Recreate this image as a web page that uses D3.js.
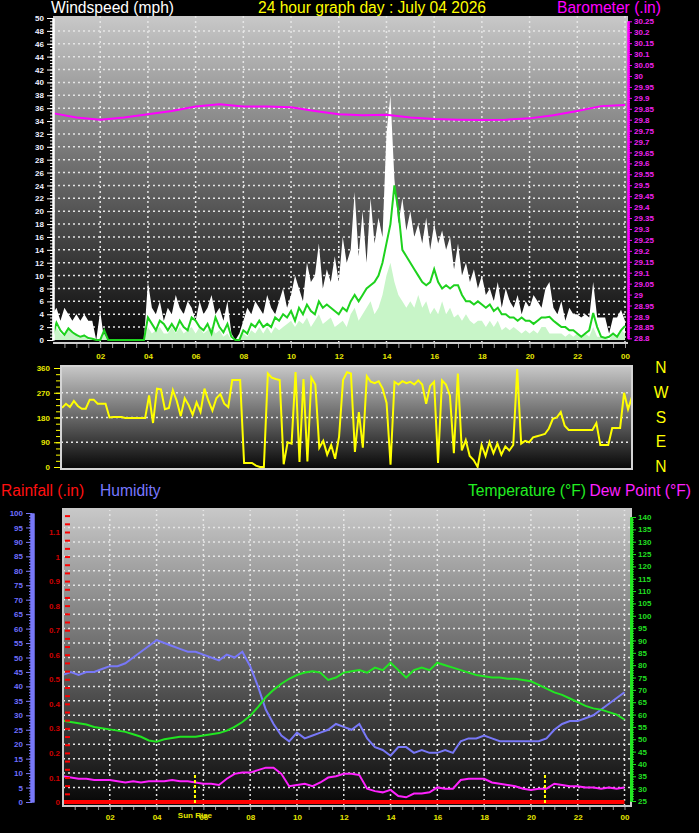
<!DOCTYPE html>
<html lang="en">

<head>
    <meta charset="UTF-8">
    <title>24 hour graph day : July 04 2026</title>
    <style>
        body {
            margin: 0;
            background: #000;
        }

        svg {
            display: block;
        }

        .title {
            font-family: "Liberation Sans", Arial, sans-serif;
            font-size: 15.6px;
        }
    </style>
</head>

<body>
    <script src="https://d3js.org/d3.v7.min.js"></script>
    <script>
        var width = 699;
        var height = 833;

        // hour labels under the time axes (every 2 hours)
        var hourLabels = ['02', '04', '06', '08', '10', '12', '14', '16', '18', '20', '22', '00'];
        var dirLetters = ['N', 'W', 'S', 'E', 'N'];
        var dirLetterValues = [360, 270, 180, 90, 0];

        // windspeed, 10 minute samples from 00:00 to 24:00 (mph)
        var windGust = [
            4, 5, 3, 5, 4, 3,
            4, 3, 4, 3, 3, 0,
            4.5, 0, 0, 0, 0, 0,
            0, 0, 0, 0, 0, 0,
            9, 5, 4, 6, 3, 5,
            4, 7, 5, 4, 6, 5,
            3, 6, 4, 5, 7, 4,
            5, 3, 6, 1, 0, 1,
            3, 5, 4, 6, 5, 4,
            7, 5, 4, 6, 8, 5,
            7, 10, 8, 6, 12, 9,
            10, 15, 8, 11, 9, 13,
            9, 16, 12, 14, 23, 13,
            20, 12, 22, 15, 19, 16,
            32, 38, 25, 18, 22, 17,
            20, 16, 18, 15, 19, 14,
            18, 15, 17, 14, 16, 11,
            15, 10, 12, 9, 11, 8,
            10, 7, 8, 6, 9, 5,
            8, 6, 5, 7, 4, 6,
            5, 7, 6, 5, 8, 9,
            5, 4, 6, 3, 5, 4,
            4, 3.5, 4, 3.5, 9, 3.5,
            3.5, 3.5, 1, 3.5, 3.5, 4.7,
            3
        ];
        var windAvg = [
            0.5, 2.7, 1.5, 0.8, 1.8, 1.2,
            0.8, 0.5, 0.7, 0.3, 0.2, 0,
            0, 1.5, 0, 0, 0, 0,
            0, 0, 0, 0, 0, 0,
            3.5, 2.5, 1.5, 3, 2.5, 1.5,
            2.5, 1.5, 3, 2, 1.5, 3.5,
            3, 2, 1.5, 2.5, 1, 3.5,
            2, 1.2, 2.5, 0.5, 0, 0,
            1.5, 1, 2.5, 2, 3, 2,
            2.5, 2, 3.5, 3, 4, 3.5,
            4.5, 3, 5, 4, 5.5, 4.5,
            4, 6, 5, 5.5, 5, 4.5,
            4, 5, 4.5, 6, 7, 6,
            7, 8, 8.5, 9, 10, 12,
            15, 18, 24, 20, 14, 13,
            12, 11, 10, 9, 8.5, 9,
            11, 9, 8, 8.5, 8, 8.5,
            8.5, 7, 6, 6, 5.5, 6,
            5.5, 5, 5.5, 4.5, 5, 4,
            4, 3.5, 3.5, 3, 3.5, 3,
            3, 2.5, 3, 3.5, 3.5, 3.6,
            3, 2.5, 2, 2, 1.5, 1.5,
            1, 0.5, 1, 1.5, 4.2, 2,
            0.5, 0.3, 0.5, 1, 0.5, 1.5,
            2.2
        ];
        var windSpeed = [
            1, 2, 1, 0.5, 1.5, 1,
            1, 0.5, 1, 0, 0, 0,
            0, 1, 0, 0, 0, 0,
            0, 0, 0, 0, 0, 0,
            2, 1, 1.5, 2, 1, 1,
            2, 1, 2, 1, 1.5, 2,
            1, 2, 1, 1.5, 2, 1,
            1.5, 0.5, 1, 0, 0, 0,
            1, 0.5, 1.5, 1, 2, 1,
            2, 1, 2, 1.5, 2, 2.5,
            3, 2, 3, 2.5, 3.5, 2,
            3, 4, 2.5, 3, 3.5, 2,
            2.5, 3, 2, 4, 5, 3,
            4, 5, 6, 4, 5, 7,
            10, 12, 9, 7, 6, 5,
            6, 5, 7, 5, 6, 4,
            5, 4, 6, 4, 5, 3.5,
            4, 3, 4, 3, 2.5, 3,
            3, 2, 3, 2, 3, 1.5,
            2, 1.5, 2, 1.5, 1, 1.5,
            1, 1.5, 1, 2, 2, 1,
            1, 1, 1, 0.5, 1, 0.5,
            1, 0.5, 1, 0.5, 2, 0.5,
            0.5, 0.5, 0, 1, 0.5, 1.5,
            1
        ];

        // barometer, hourly (in)
        var barometer = [29.83, 29.81, 29.80, 29.81, 29.825, 29.84, 29.86, 29.87, 29.86, 29.86,
            29.857, 29.84, 29.825, 29.82, 29.823, 29.81, 29.803, 29.80, 29.799, 29.80,
            29.806, 29.82, 29.84, 29.862, 29.867];

        // wind direction, 10 minute samples (degrees)
        var windDir = [
            215, 230, 218, 240, 222, 212, 212, 245, 245, 230, 230, 230,
            180, 182, 182, 182, 178, 178, 178, 178, 178, 178, 260, 160,
            285, 282, 210, 215, 280, 240, 185, 250, 225, 190, 235, 200,
            285, 240, 205, 250, 265, 230, 218, 316, 316, 316, 15, 15,
            15, 5, 0, 0, 340, 325, 320, 316, 10, 90, 85, 345,
            18, 320, 20, 325, 300, 70, 95, 45, 80, 30, 110, 316,
            345, 340, 55, 200, 70, 330, 310, 305, 312, 285, 233, 8,
            310, 300, 312, 305, 310, 300, 315, 300, 230, 295, 310, 15,
            315, 300, 260, 50, 340, 60, 98, 40, 25, 0, 80, 40,
            90, 50, 85, 45, 75, 60, 80, 356, 85, 95, 90, 108,
            112, 116, 120, 140, 175, 180, 200, 150, 135, 135, 135, 135,
            135, 135, 135, 160, 80, 80, 80, 142, 142, 142, 270, 210,
            255
        ];

        // humidity (%), temperature and dew point (F), 20 minute samples
        var humidity = [
            44, 45, 44, 45, 45, 46, 47, 47, 48, 50, 52, 54,
            56, 55, 54, 53, 52, 52, 51, 50, 49, 51, 50, 52,
            47, 40, 32, 27, 23, 21, 24, 22, 23, 24, 25, 27,
            26, 25, 27, 22, 19, 18, 16, 19, 19, 17, 18, 17,
            17, 18, 17, 21, 22, 22, 23, 22, 21, 21, 21, 21,
            21, 21, 22, 25, 27, 28, 28, 29, 30, 32, 34, 36,
            38
        ];
        var temperature = [
            57.5, 57, 56.5, 56, 55, 54.5, 54, 53.5, 53, 52, 51, 49.5,
            49, 50, 50.5, 51, 51, 51, 51.5, 52, 52.5, 53.5, 55, 57,
            59.5, 63, 67, 70, 72.5, 74.5, 76, 77, 77.5, 77, 74, 75,
            77, 77.5, 78, 77, 79, 78, 81, 78, 75, 78, 79, 78,
            81, 80, 79, 78, 77, 76, 75.5, 75, 75, 74.5, 74.5, 74,
            73.5, 72, 70.5, 69, 68, 66.5, 65, 63.5, 62.5, 62, 61, 60,
            58
        ];
        var dewPoint = [
            35, 34.5, 34, 34, 33.5, 33.5, 33.5, 33, 32.5, 33, 32.5, 33,
            33, 33, 33.5, 33, 33, 32.5, 32, 32, 31.5, 34, 36, 36.5,
            36.5, 37.5, 38.5, 38.5, 36, 31, 31.5, 32, 31, 32.5, 34.5, 35,
            36, 36, 35.5, 30, 29, 28.5, 29.5, 27, 26.5, 28, 28, 28.5,
            30.5, 30, 30, 33.5, 34, 34, 34, 32.5, 32, 31.5, 31, 30,
            29.5, 30, 30, 32, 31.5, 31, 31, 30.5, 30.5, 30, 30.5, 30,
            30.5
        ];
        // rainfall total, hourly (in)
        var rainfall = [0, 0, 0, 0, 0, 0, 0, 0, 0, 0, 0, 0, 0, 0, 0, 0, 0, 0, 0, 0, 0, 0, 0, 0, 0];
        var sunRise = 5.64;
        var sunSet = 20.6;

        var font = '"Liberation Sans", Arial, sans-serif';

        var svg = d3.select('body').append('svg').attr('width', width).attr('height', height)
            .style('background', '#000');

        // panel background gradient
        var grad = svg.append('defs').append('linearGradient').attr('id', 'panelGrad')
            .attr('x1', 0).attr('y1', 0).attr('x2', 0).attr('y2', 1);
        grad.append('stop').attr('offset', '0%').attr('stop-color', '#c8c8c8');
        grad.append('stop').attr('offset', '100%').attr('stop-color', '#060606');

        function panel(box) {
            svg.append('rect').attr('x', box.left).attr('y', box.top)
                .attr('width', box.right - box.left).attr('height', box.bottom - box.top)
                .attr('fill', 'url(#panelGrad)');
        }

        function hGrid(vals, y, x0, x1) {
            svg.append('g').selectAll('line').data(vals).enter().append('line')
                .attr('x1', x0).attr('x2', x1)
                .attr('y1', function (d) { return y(d); }).attr('y2', function (d) { return y(d); })
                .attr('stroke', '#e6e6e6').attr('stroke-width', 1.5).attr('stroke-dasharray', '2,3');
        }

        function vGrid(vals, x, y0, y1) {
            svg.append('g').selectAll('line').data(vals).enter().append('line')
                .attr('y1', y0).attr('y2', y1)
                .attr('x1', function (d) { return x(d); }).attr('x2', function (d) { return x(d); })
                .attr('stroke', '#e6e6e6').attr('stroke-width', 1.5).attr('stroke-dasharray', '2,3');
        }

        function styleAxis(g, color, lineWidth, textColor) {
            g.attr('font-family', font).attr('font-size', 8).attr('font-weight', 'bold');
            g.select('.domain').attr('stroke', color).attr('stroke-width', lineWidth);
            g.selectAll('.tick line').attr('stroke', color);
            g.selectAll('.tick text').attr('fill', textColor || color);
        }

        function hourFormat(d) {
            return (d % 2 === 0 && d > 0) ? hourLabels[d / 2 - 1] : '';
        }

        // ---------------- windspeed / barometer ----------------
        var windBox = { left: 53, right: 628, top: 16, bottom: 343 };
        var xW = d3.scaleLinear().domain([0, 24]).range([52.5, 625]);
        var yW = d3.scaleLinear().domain([0, 50]).range([340, 18]);
        var yB = d3.scaleLinear().domain([28.8, 30.25]).range([338.3, 21.3]);

        panel(windBox);
        hGrid(d3.range(2, 50, 2), yW, windBox.left, windBox.right);
        vGrid(d3.range(2, 25, 2), xW, windBox.top, windBox.bottom);

        svg.append('path').datum(windGust)
            .attr('d', d3.area().x(function (d, i) { return xW(i / 6); }).y0(yW(0)).y1(function (d) { return yW(d); }))
            .attr('fill', '#ffffff');
        svg.append('path').datum(windSpeed)
            .attr('d', d3.area().x(function (d, i) { return xW(i / 6); }).y0(yW(0)).y1(function (d) { return yW(d); }))
            .attr('fill', '#c8f5c8');
        svg.append('path').datum(windAvg)
            .attr('d', d3.line().x(function (d, i) { return xW(i / 6); }).y(function (d) { return yW(d); }))
            .attr('fill', 'none').attr('stroke', '#1ed21e').attr('stroke-width', 2);
        svg.append('path').datum(barometer)
            .attr('d', d3.line().x(function (d, i) { return xW(i); }).y(function (d) { return yB(d); }))
            .attr('fill', 'none').attr('stroke', '#ff00ff').attr('stroke-width', 2);

        svg.append('line').attr('x1', windBox.left).attr('x2', windBox.right)
            .attr('y1', windBox.bottom).attr('y2', windBox.bottom)
            .attr('stroke', '#d0d0d0').attr('stroke-width', 2);

        var g = svg.append('g').attr('transform', 'translate(' + windBox.left + ',0)')
            .call(d3.axisLeft(yW).tickValues(d3.range(0, 50.1, 0.5)).tickSize(3).tickSizeOuter(0).tickFormat(''));
        styleAxis(g, '#ffffff', 2);
        g = svg.append('g').attr('transform', 'translate(' + windBox.left + ',0)')
            .call(d3.axisLeft(yW).tickValues(d3.range(0, 51, 2)).tickSize(6).tickSizeOuter(0).tickPadding(3));
        styleAxis(g, '#ffffff', 2, '#f0f0ff');

        g = svg.append('g').attr('transform', 'translate(' + windBox.right + ',0)')
            .call(d3.axisRight(yB).tickValues(d3.range(28.8, 30.2501, 0.01)).tickSize(2).tickSizeOuter(0).tickFormat(''));
        styleAxis(g, '#ff00ff', 2);
        g = svg.append('g').attr('transform', 'translate(' + windBox.right + ',0)')
            .call(d3.axisRight(yB).tickValues(d3.range(0, 30).map(function (i) { return 28.8 + i * 0.05; }))
                .tickSize(4).tickSizeOuter(0).tickPadding(2)
                .tickFormat(function (d) { return String(+d.toFixed(2)); }));
        styleAxis(g, '#ff00ff', 2, '#ee22ee');

        g = svg.append('g').attr('transform', 'translate(0,' + (windBox.bottom + 1) + ')')
            .call(d3.axisBottom(xW).tickValues(d3.range(0.5, 24.01, 0.5)).tickSize(4).tickSizeOuter(0).tickPadding(5)
                .tickFormat(hourFormat));
        styleAxis(g, '#9a9a9a', 0, '#e6e600');
        g.select('.domain').remove();

        svg.append('text').attr('class', 'title').attr('x', 51).attr('y', 13).attr('fill', '#ffffff').text('Windspeed (mph)');
        svg.append('text').attr('class', 'title').attr('x', 372).attr('y', 13).attr('text-anchor', 'middle')
            .attr('fill', '#ffff00').text('24 hour graph day : July 04 2026');
        svg.append('text').attr('class', 'title').attr('x', 661).attr('y', 13).attr('text-anchor', 'end')
            .attr('fill', '#ff00ff').text('Barometer (.in)');

        // ---------------- wind direction ----------------
        var dirBox = { left: 61, right: 632, top: 366, bottom: 469 };
        var xD = d3.scaleLinear().domain([0, 24]).range([62, 632]);
        var yD = d3.scaleLinear().domain([0, 360]).range([467, 368]);

        panel(dirBox);
        hGrid([90, 180, 270], yD, dirBox.left, dirBox.right);
        svg.append('path').datum(windDir)
            .attr('d', d3.line().x(function (d, i) { return xD(i / 6); }).y(function (d) { return yD(d); }))
            .attr('fill', 'none').attr('stroke', '#ffff00').attr('stroke-width', 2);
        svg.append('rect').attr('x', dirBox.left).attr('y', dirBox.top)
            .attr('width', dirBox.right - dirBox.left).attr('height', dirBox.bottom - dirBox.top)
            .attr('fill', 'none').attr('stroke', '#d4d4d4').attr('stroke-width', 2);

        g = svg.append('g').attr('transform', 'translate(' + (dirBox.left - 1) + ',0)')
            .call(d3.axisLeft(yD).tickValues(d3.range(0, 361, 22.5)).tickSize(4).tickSizeOuter(0).tickFormat(''));
        styleAxis(g, '#ffff00', 0);
        g = svg.append('g').attr('transform', 'translate(' + (dirBox.left - 1) + ',0)')
            .call(d3.axisLeft(yD).tickValues([0, 90, 180, 270, 360]).tickSize(6).tickSizeOuter(0).tickPadding(4));
        styleAxis(g, '#ffff00', 0, '#e8e800');

        svg.append('g').selectAll('text').data(dirLetters).enter().append('text')
            .attr('class', 'title').attr('text-anchor', 'middle').attr('fill', '#ffff00')
            .attr('x', 661).attr('y', function (d, i) { return yD(dirLetterValues[i]) + 5; })
            .text(function (d) { return d; });

        // ---------------- rain / humidity / temperature / dew point ----------------
        var lowBox = { left: 63, right: 631, top: 509, bottom: 806 };
        var xL = d3.scaleLinear().domain([0, 24]).range([63, 624.5]);
        var yH = d3.scaleLinear().domain([0, 100]).range([802, 513]);
        var yR = d3.scaleLinear().domain([0, 1.1]).range([802, 532]);
        var yT = d3.scaleLinear().domain([25, 140]).range([801, 517]);

        panel(lowBox);
        hGrid(d3.range(5, 100, 5), yH, lowBox.left, lowBox.right);
        vGrid(d3.range(2, 25, 2), xL, lowBox.top, lowBox.bottom);

        function lowLine(data, y, color) {
            svg.append('path').datum(data)
                .attr('d', d3.line().x(function (d, i) { return xL(i / 3); }).y(function (d) { return y(d); }))
                .attr('fill', 'none').attr('stroke', color).attr('stroke-width', 2);
        }
        lowLine(humidity, yH, '#7878f8');
        lowLine(temperature, yT, '#22e622');
        lowLine(dewPoint, yT, '#ff22ff');

        svg.append('path').datum(rainfall)
            .attr('d', d3.line().x(function (d, i) { return xL(i); }).y(function (d) { return yR(d); }))
            .attr('fill', 'none').attr('stroke', '#ff0000').attr('stroke-width', 4);

        // sun rise / sun set markers
        svg.append('g').selectAll('line').data([sunRise, sunSet]).enter().append('line')
            .attr('x1', function (d) { return xL(d); }).attr('x2', function (d) { return xL(d); })
            .attr('y1', 775).attr('y2', lowBox.bottom)
            .attr('stroke', '#ffff00').attr('stroke-width', 2).attr('stroke-dasharray', '3,2');

        svg.append('rect').attr('x', lowBox.left).attr('y', lowBox.top)
            .attr('width', lowBox.right - lowBox.left).attr('height', lowBox.bottom - lowBox.top)
            .attr('fill', 'none').attr('stroke', '#c8c8c8').attr('stroke-width', 2);

        // humidity axis
        g = svg.append('g').attr('transform', 'translate(32,0)')
            .call(d3.axisLeft(yH).tickValues(d3.range(0, 101, 1)).tickSize(3).tickSizeOuter(0).tickFormat(''));
        styleAxis(g, '#7878f8', 4);
        g = svg.append('g').attr('transform', 'translate(32,0)')
            .call(d3.axisLeft(yH).tickValues(d3.range(0, 101, 5)).tickSize(6).tickSizeOuter(0).tickPadding(3));
        styleAxis(g, '#7878f8', 4, '#6f6fff');

        // rainfall axis
        g = svg.append('g').attr('transform', 'translate(' + (lowBox.left + 2) + ',0)')
            .call(d3.axisRight(yR).tickValues(d3.range(0, 36).map(function (i) { return i / 30; })).tickSize(5).tickSizeOuter(0).tickFormat(''));
        styleAxis(g, '#ff0000', 0);
        g.selectAll('.tick line').attr('stroke-width', 2);
        g = svg.append('g').attr('transform', 'translate(' + lowBox.left + ',0)')
            .call(d3.axisLeft(yR).tickValues(d3.range(0, 12).map(function (i) { return i / 10; })).tickSize(0).tickSizeOuter(0).tickPadding(3)
                .tickFormat(function (d) { return String(+d.toFixed(1)); }));
        styleAxis(g, '#cc0000', 0);

        // temperature axis
        g = svg.append('g').attr('transform', 'translate(' + lowBox.right + ',0)')
            .call(d3.axisRight(yT).tickValues(d3.range(25, 141, 1)).tickSize(3).tickSizeOuter(0).tickFormat(''));
        styleAxis(g, '#22e622', 3);
        g = svg.append('g').attr('transform', 'translate(' + lowBox.right + ',0)')
            .call(d3.axisRight(yT).tickValues(d3.range(25, 141, 5)).tickSize(5).tickSizeOuter(0).tickPadding(2));
        styleAxis(g, '#22e622', 3, '#22dd22');

        // time axis
        g = svg.append('g').attr('transform', 'translate(0,' + (lowBox.bottom + 1) + ')')
            .call(d3.axisBottom(xL).tickValues(d3.range(0.5, 24.01, 0.5)).tickSize(3).tickSizeOuter(0).tickPadding(4)
                .tickFormat(hourFormat));
        styleAxis(g, '#9a9a9a', 0, '#e6e600');
        g.select('.domain').remove();

        // the reference draws this label right over the "06" hour label
        svg.append('text').attr('x', xL(sunRise)).attr('y', 818).attr('text-anchor', 'middle')
            .attr('font-family', font).attr('font-size', 8).attr('font-weight', 'bold')
            .attr('fill', '#e6e600').text('Sun Rise');

        svg.append('text').attr('class', 'title').attr('x', 1).attr('y', 496).attr('fill', '#ff1010').text('Rainfall (.in)');
        svg.append('text').attr('class', 'title').attr('x', 100).attr('y', 496).attr('fill', '#7878ff').text('Humidity');
        svg.append('text').attr('class', 'title').attr('x', 468).attr('y', 496).attr('fill', '#22ee22').text('Temperature (°F)');
        svg.append('text').attr('class', 'title').attr('x', 691).attr('y', 496).attr('text-anchor', 'end')
            .attr('fill', '#ff22ff').text('Dew Point (°F)');
    </script>
</body>

</html>
